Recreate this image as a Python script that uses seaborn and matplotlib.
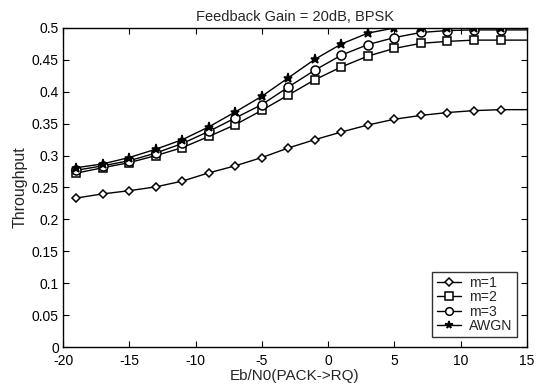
import matplotlib
matplotlib.use("Agg")
import matplotlib.pyplot as plt
import seaborn as sns
import pandas as pd

# Eb/N0 points (dB); the last point only carries the flat line to the edge
ebn0 = [-19, -17, -15, -13, -11, -9, -7, -5, -3, -1, 1, 3, 5, 7, 9, 11, 13, 15]

m1 = [0.2335, 0.240, 0.245, 0.251, 0.260, 0.273, 0.284, 0.297, 0.312, 0.325,
      0.337, 0.348, 0.357, 0.363, 0.3675, 0.3705, 0.372, 0.372]
m2 = [0.2725, 0.281, 0.289, 0.300, 0.3125, 0.330, 0.3485, 0.371, 0.395, 0.419,
      0.439, 0.456, 0.468, 0.476, 0.479, 0.481, 0.481, 0.481]
m3 = [0.277, 0.284, 0.292, 0.304, 0.319, 0.338, 0.359, 0.380, 0.4075, 0.434,
      0.4575, 0.474, 0.485, 0.493, 0.496, 0.497, 0.497, 0.497]
awgn = [0.281, 0.287, 0.297, 0.310, 0.325, 0.345, 0.3685, 0.393, 0.422, 0.451,
        0.475, 0.492, 0.500, 0.500, 0.500, 0.500, 0.500, 0.500]

series = {"m=1": m1, "m=2": m2, "m=3": m3, "AWGN": awgn}
markers = {"m=1": "D", "m=2": "s", "m=3": "o", "AWGN": "*"}
msize = {"m=1": 4.5, "m=2": 6, "m=3": 6.5, "AWGN": 6.5}

sns.set_style("white")
plt.rcParams["font.family"] = ["Liberation Sans", "DejaVu Sans"]
plt.rcParams["axes.unicode_minus"] = False

fig = plt.figure(figsize=(5.4, 3.85), dpi=100)
ax = fig.add_axes([0.1167, 0.0987, 0.8593, 0.8286])

for name, vals in series.items():
    df = pd.DataFrame({"x": ebn0, "y": vals})
    mk = markers[name]
    face = "k" if mk == "*" else "white"
    sns.lineplot(data=df, x="x", y="y", ax=ax, color="k", lw=1.0,
                 marker=mk, markersize=msize[name],
                 markerfacecolor=face, markeredgecolor="k", markeredgewidth=1.1,
                 markevery=slice(0, len(ebn0) - 1), label=name)

ax.set_xlim(-20, 15)
ax.set_ylim(0, 0.5)
ax.set_xticks(range(-20, 16, 5))
ax.set_yticks([i * 0.05 for i in range(11)])
ax.set_yticklabels(["0", "0.05", "0.1", "0.15", "0.2", "0.25", "0.3",
                    "0.35", "0.4", "0.45", "0.5"])
ax.tick_params(direction="in", length=4, width=0.8, labelsize=10,
               top=True, right=True, bottom=True, left=True, colors="k")
ax.tick_params(axis="x", pad=5)
ax.tick_params(axis="y", pad=3)
for sp in ax.spines.values():
    sp.set_color("k")
    sp.set_linewidth(1.0)

ax.set_title("Feedback Gain = 20dB, BPSK", fontsize=10.5, pad=5)
ax.set_xlabel("Eb/N0(PACK->RQ)", fontsize=11, labelpad=1)
ax.set_ylabel("Throughput", fontsize=11.5, labelpad=3)

leg = ax.legend(loc="lower right", bbox_to_anchor=(0.978, 0.031),
                fontsize=10.2, frameon=True, fancybox=False,
                edgecolor="k", borderpad=0.3, labelspacing=0.02,
                handlelength=1.7, handletextpad=0.6, borderaxespad=0.0,
                markerscale=0.85)
leg.get_frame().set_linewidth(1.0)

fig.savefig("out.png", dpi=100)
